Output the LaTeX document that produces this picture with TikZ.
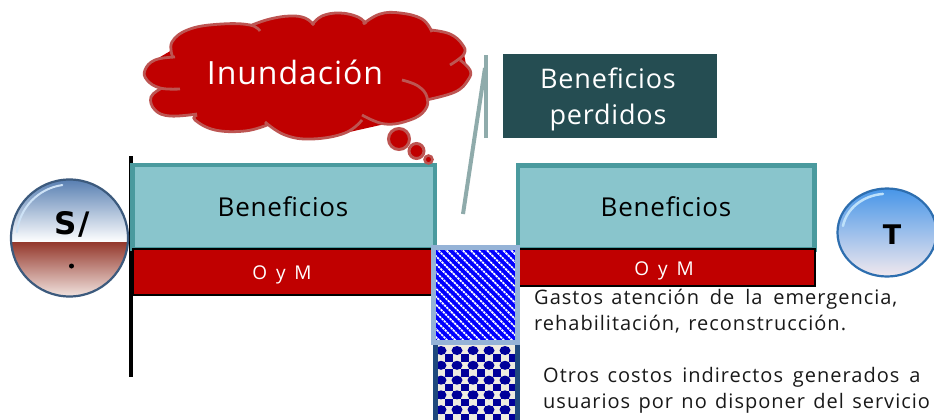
\documentclass[tikz,border=0pt]{standalone}
\usepackage{fontspec}
\usetikzlibrary{shapes.geometric}
\setmainfont{Open Sans}
\newfontfamily\lsfont[LetterSpace=3]{Open Sans}
\newfontfamily\omfont[LetterSpace=10,WordSpace=1.3]{Open Sans}
\newfontfamily\notefont[LetterSpace=5,WordSpace=1.35]{Open Sans}
\newfontfamily\boldfont[LetterSpace=6]{DejaVu Sans}
\definecolor{tealfill}{HTML}{89C5CC}
\definecolor{tealedge}{HTML}{4A9A9E}
\definecolor{redfill}{HTML}{C00000}
\definecolor{cloudedge}{HTML}{BD5552}
\definecolor{greyline}{HTML}{8FABAB}
\definecolor{darkteal}{HTML}{254D52}
\definecolor{lightframe}{HTML}{95B3D7}
\definecolor{darkframe}{HTML}{1F497D}
\definecolor{navy}{HTML}{00009A}
\definecolor{cream}{HTML}{EEECE1}
\definecolor{sTop}{RGB}{84,124,176}
\definecolor{sRedA}{RGB}{148,56,44}
\definecolor{sRedB}{RGB}{244,232,228}
\definecolor{sGloss}{RGB}{205,226,246}
\definecolor{sEdge}{RGB}{60,90,125}
\definecolor{tTop}{RGB}{72,150,232}
\definecolor{tMid}{RGB}{165,212,250}
\definecolor{tBot}{RGB}{240,232,238}
\definecolor{tGloss}{RGB}{190,225,250}
\definecolor{tEdge}{RGB}{45,110,175}
\tikzset{
  tealbox/.style={draw=tealedge,line width=4.5pt,fill=tealfill,minimum height=84pt,inner sep=0pt},
  redbox/.style={draw=black,line width=1.2pt,fill=redfill,text=white,inner sep=0pt},
  cloudline/.style={draw=cloudedge,line width=2.8pt,line cap=butt},
  benlabel/.style={font=\lsfont\fontsize{26}{26}\selectfont,text=black,inner sep=0pt},
  smalllabel/.style={font=\omfont\fontsize{19}{19}\selectfont,text=white,inner sep=0pt},
  notes/.style={font=\notefont\fontsize{20}{26}\selectfont,align=left,anchor=north west,inner sep=0pt,text=black!90},
}
\newcommand{\lobefill}[1]{\fill[redfill] plot[smooth,tension=0.7] coordinates {#1};}
\newcommand{\lobedraw}[1]{\draw[cloudline] plot[smooth,tension=0.7] coordinates {#1};}
\newcommand{\alllobes}[1]{%
 #1{(173,58)(172,42)(190,29)(222,24)(250,25)(260,31)}
 #1{(252,25)(270,19)(290,16)(305,18)(314,25)}
 #1{(312,25)(322,16)(340,13)(358,17)(366,24)}
 #1{(363,24)(380,14)(400,13)(422,19)(432,32)}
 #1{(431,30)(450,34)(462,44)(464,54)(450,65)}
 #1{(460,60)(470,70)(468,80)(455,92)(426,100)}
 #1{(402,80)(418,86)(427,97)(425,110)(410,120)(385,124)(362,115)}
 #1{(362,120)(345,133)(312,139)(285,135)(265,122)}
 #1{(267,125)(245,131)(215,130)(195,120)(197,115)}
 #1{(197,114)(170,116)(155,110)(151,97)(162,88)}
 #1{(180,89)(160,88)(147,80)(145,70)(155,60)(175,57)}
}
\begin{document}
\begin{tikzpicture}[x=1pt,y=-1pt]
\useasboundingbox[fill=white] (0,0) rectangle (934,420);

% black axis
\coordinate (axisTop) at (131,156);
\coordinate (axisBot) at (131,377);
\draw[line width=4pt] (axisTop) -- (axisBot);

% benefit boxes
\node[tealbox,minimum width=302.5pt] (ben1) at (283.75,207) {};
\node[tealbox,minimum width=296.5pt] (ben2) at (666.25,207.5) {};
\node[redbox,minimum width=299pt,minimum height=46pt] (om1) at (282.5,272) {};
\node[redbox,minimum width=298pt,minimum height=37pt] (om2) at (666,267.5) {};
\node[benlabel] (benA) at (283,207) {Beneficios};
\node[benlabel] (benB) at (666,207) {Beneficios};
\node[smalllabel] (omA) at (282,275) {O y M};
\node[smalllabel] (omB) at (664,271) {O y M};

% sphere S/
\begin{scope}
  \clip (69.5,238) circle (59);
  \shade[top color=sTop,bottom color=white] (10,178) rectangle (130,242);
  \shade[top color=sRedA,bottom color=sRedB] (10,242) rectangle (130,298);
\end{scope}
\draw[sGloss,line width=2pt,line cap=round] (17,232) arc[start angle=186,end angle=262,radius=53];
\node[circle,draw=sEdge,line width=2.2pt,minimum size=117pt,inner sep=0pt] (sphereS) at (69.5,238) {};
\node[font=\boldfont\bfseries\fontsize{31}{31}\selectfont,inner sep=0pt] (sLabel) at (72,224) {S/};
\node[circle,fill=black,minimum size=5pt,inner sep=0pt] (sDot) at (71.5,266) {};

% ellipse T
\shade[top color=tTop,middle color=tMid,bottom color=tBot] (887,232.5) ellipse[x radius=49,y radius=43.5];
\draw[tGloss,line width=2.5pt,line cap=round] (843,226) arc[start angle=190,end angle=265,x radius=44.5,y radius=39];
\node[ellipse,draw=tEdge,line width=2.2pt,minimum width=99pt,minimum height=88pt,inner sep=0pt] (sphereT) at (887,232.5) {};
\node[font=\boldfont\bfseries\fontsize{27}{27}\selectfont,inner sep=0pt] (tLabel) at (892,235) {T};

% cloud
\fill[redfill] (172,50) -- (222,24) -- (252,25) -- (290,16) -- (314,25) -- (340,13) -- (366,24) -- (400,13) -- (432,30) -- (464,54) -- (468,75) -- (455,92) -- (426,100) -- (425,110) -- (385,124) -- (345,133) -- (312,139) -- (265,125) -- (215,130) -- (197,115) -- (155,110) -- (162,88) -- (147,80) -- (155,60) -- cycle;
\alllobes{\lobefill}
\alllobes{\lobedraw}
\node[font=\lsfont\fontsize{32}{32}\selectfont,text=white,inner sep=0pt] (flood) at (295,72) {Inundación};
\node[circle,draw=cloudedge,fill=redfill,line width=3pt,minimum size=21pt,inner sep=0pt] (bub1) at (399,139) {};
\node[circle,draw=cloudedge,fill=redfill,line width=3pt,minimum size=15pt,inner sep=0pt] (bub2) at (416.5,151) {};
\node[circle,draw=cloudedge,fill=redfill,line width=2.5pt,minimum size=8pt,inner sep=0pt] (bub3) at (428.5,159.5) {};

% grey callout
\coordinate (lineTop) at (486,55);
\coordinate (lineEnd) at (486,138);
\coordinate (lineTail) at (463,214);
\coordinate (lineJoin) at (485,68);
\draw[greyline,line width=4pt] (lineEnd) -- (lineTop);
\draw[greyline,line width=4pt] (lineJoin) -- (lineTail);

\node[fill=darkteal,minimum width=214pt,minimum height=83pt,inner sep=0pt] (lost) at (610,96) {};
\node[font=\lsfont\fontsize{27}{36}\selectfont,align=center,text=white,inner sep=0pt] (lostText) at (608,99) {Beneficios\\perdidos};

% pattern blocks
\fill[cream] (435,345) rectangle (518,420);
\begin{scope}
  \clip (437,345) rectangle (516,420);
  \foreach \r in {0,...,10} {
    \pgfmathsetmacro{\yy}{347+7.4*\r}
    \pgfmathsetmacro{\off}{mod(\r,2)*8}
    \foreach \c in {-1,...,6} {
      \fill[navy] (437+\off+16*\c,\yy) rectangle ++(8,7.4);
    }
  }
  \foreach \r in {0,2,4,6,8,10} {
    \pgfmathsetmacro{\yy}{350.5+7.4*\r}
    \foreach \c in {0,...,5} {
      \fill[navy] (441+16*\c,\yy) ellipse[x radius=5.5,y radius=4.5];
    }
  }
\end{scope}
\draw[darkframe,line width=4.5pt] (435.5,345) -- (435.5,420);
\draw[darkframe,line width=4.5pt] (517.5,345) -- (517.5,420);

\begin{scope}
  \clip (434,248) rectangle (517,342);
  \fill[blue] (434,248) rectangle (517,342);
  \foreach \k in {-12,...,11} {
    \draw[white,line width=1.7pt,dash pattern=on 2.4pt off 0.8pt] (434+8.1*\k,246) -- ++(100,100);
  }
\end{scope}
\node[draw=lightframe,line width=5pt,minimum width=84pt,minimum height=95pt,inner sep=0pt] (blueblock) at (475.5,295) {};

% notes
\node[notes] (note1) at (534,289) {Gastos atención\hspace{2.5pt} de\hspace{2.5pt} la\hspace{2.5pt} emergencia,\\rehabilitación, reconstrucción.};
\node[notes] (note2) at (543,367) {Otros costos\hspace{1.5pt} indirectos\hspace{1.5pt} generados\hspace{1.5pt} a\\usuarios por no disponer del servicio};
\end{tikzpicture}
\end{document}
